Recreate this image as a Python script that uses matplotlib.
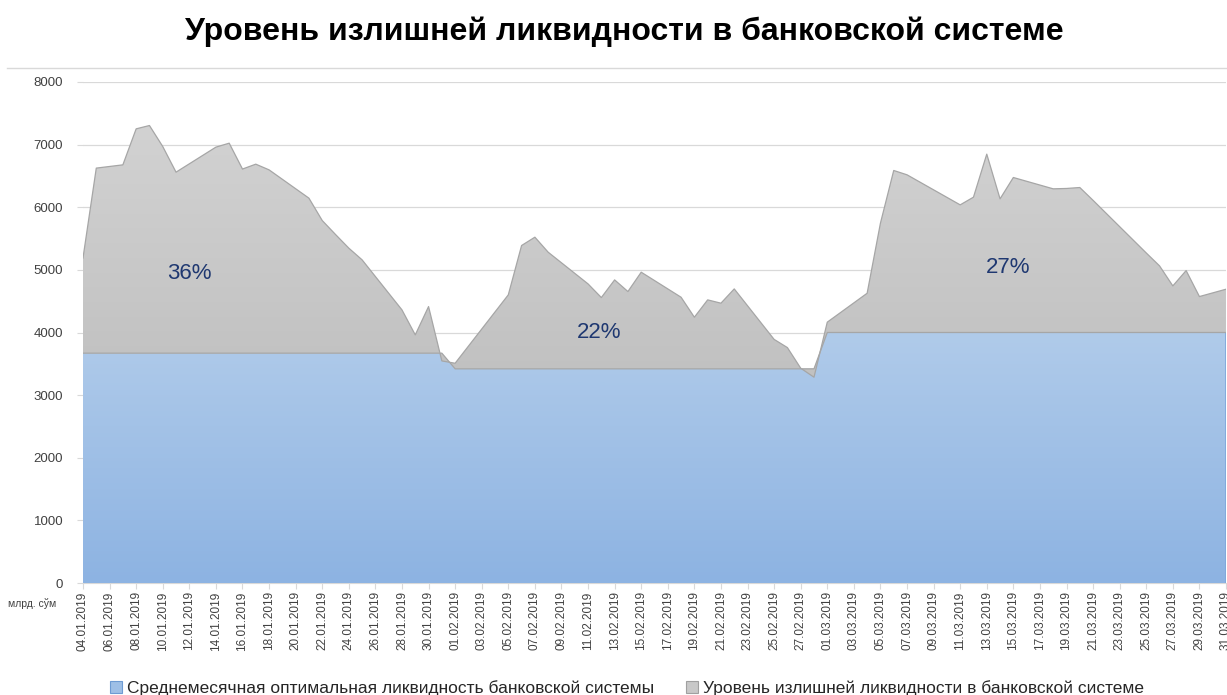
import matplotlib
matplotlib.use("Agg")
import matplotlib.pyplot as plt
import matplotlib.dates as mdates
from matplotlib.patches import Patch, PathPatch
from matplotlib.path import Path
from matplotlib.colors import LinearSegmentedColormap
from matplotlib.lines import Line2D
import numpy as np
import pandas as pd

plt.rcParams["font.family"] = ["Liberation Sans", "DejaVu Sans"]

# Daily observations (working days), млрд. сўм
dates = [
    "04.01.2019", "05.01.2019", "07.01.2019", "08.01.2019", "09.01.2019", "10.01.2019",
    "11.01.2019", "14.01.2019", "15.01.2019", "16.01.2019", "17.01.2019", "18.01.2019",
    "21.01.2019", "22.01.2019", "23.01.2019", "24.01.2019", "25.01.2019", "28.01.2019",
    "29.01.2019", "30.01.2019", "31.01.2019",
    "01.02.2019", "04.02.2019", "05.02.2019", "06.02.2019", "07.02.2019", "08.02.2019",
    "11.02.2019", "12.02.2019", "13.02.2019", "14.02.2019", "15.02.2019", "18.02.2019",
    "19.02.2019", "20.02.2019", "21.02.2019", "22.02.2019", "25.02.2019", "26.02.2019",
    "27.02.2019", "28.02.2019",
    "01.03.2019", "04.03.2019", "05.03.2019", "06.03.2019", "07.03.2019", "11.03.2019",
    "12.03.2019", "13.03.2019", "14.03.2019", "15.03.2019", "18.03.2019", "19.03.2019",
    "20.03.2019", "21.03.2019", "22.03.2019", "25.03.2019", "26.03.2019", "27.03.2019",
    "28.03.2019", "29.03.2019", "31.03.2019",
]
excess_level = [
    5190, 6625, 6677, 7252, 7305, 6970,
    6560, 6960, 7023, 6610, 6688, 6597,
    6145, 5788, 5565, 5347, 5160, 4361,
    3962, 4414, 3546,
    3509, 4328, 4601, 5389, 5522, 5282,
    4776, 4558, 4840, 4654, 4963, 4563,
    4244, 4521, 4468, 4696, 3890, 3759,
    3430, 3286,
    4165, 4627, 5746, 6587, 6518, 6038,
    6161, 6848, 6134, 6475, 6294, 6300,
    6315, 6110, 5900, 5270, 5064, 4744,
    4989, 4574, 4691,
]
# monthly average optimal liquidity
optimal_by_month = {1: 3670, 2: 3420, 3: 4000}
share_labels = ["36%", "22%", "27%"]
share_pos = [("12.01.2019 00:00", 4950), ("11.02.2019 20:00", 3995), ("14.03.2019 14:00", 5030)]

title = "Уровень излишней ликвидности в банковской системе"
label_optimal = "Среднемесячная оптимальная ликвидность банковской системы"
label_excess = "Уровень излишней ликвидности в банковской системе"

x = pd.to_datetime(dates, format="%d.%m.%Y")
xn = mdates.date2num(x)
level = np.array(excess_level, dtype=float)
optimal = np.array([optimal_by_month[d.month] for d in x], dtype=float)


def gradient_fill(ax, xs, y1, y2, c_top, c_bot, y_lo, y_hi, zorder):
    coll = ax.fill_between(xs, y1, y2, facecolor="none", linewidth=0)
    path = Path.make_compound_path(*coll.get_paths())
    patch = PathPatch(path, facecolor="none", edgecolor="none", transform=ax.transData)
    ax.add_patch(patch)
    cmap = LinearSegmentedColormap.from_list("g", [c_bot, c_top])
    grad = np.linspace(0, 1, 256).reshape(-1, 1)
    im = ax.imshow(grad, cmap=cmap, origin="lower", aspect="auto",
                   extent=[xs[0], xs[-1], y_lo, y_hi], zorder=zorder,
                   interpolation="bilinear")
    im.set_clip_path(patch)


fig = plt.figure(figsize=(12.27, 6.95), dpi=100)
ax = fig.add_axes([83 / 1227, 1 - 583 / 695, (1226 - 83) / 1227, (583 - 82) / 695])

gradient_fill(ax, xn, 0, optimal, "#b0cbea", "#8db3e2", 0, 4000, 2)
ax.plot(xn[-1:].repeat(2), [0, optimal[-1]], color="#7ea7da", lw=1.2, zorder=2.5)
gradient_fill(ax, xn, optimal, level, "#d2d2d2", "#c1c1c1", 3300, 7300, 3)
ax.plot(xn, level, color="#a6a6a6", lw=0.9, zorder=4)
ax.plot(xn, optimal, color="#a6a6a6", lw=0.9, zorder=3.5)

ax.set_xlim(xn[0], xn[-1])
ax.set_ylim(0, 8000)
ax.set_yticks(np.arange(0, 8001, 1000))
ax.yaxis.grid(True, color="#d9d9d9", lw=0.9)
ax.set_axisbelow(True)
for s in ["top", "right", "left"]:
    ax.spines[s].set_visible(False)
ax.spines["bottom"].set_color("#d9d9d9")
ax.spines["bottom"].set_zorder(1)

ticks = pd.date_range(x[0], x[-1], freq="2D")
ax.set_xticks(mdates.date2num(ticks))
ax.set_xticklabels([t.strftime("%d.%m.%Y") for t in ticks], rotation=90,
                   fontsize=8.5, color="#404040")
ax.tick_params(axis="x", length=4, color="#d9d9d9", pad=2)
ax.tick_params(axis="y", length=4.3, color="#d9d9d9", pad=10, labelsize=9.5,
               labelcolor="#404040")

for lab, (d, v) in zip(share_labels, share_pos):
    ax.text(mdates.date2num(pd.to_datetime(d, format="%d.%m.%Y %H:%M")), v, lab,
            ha="center", va="center", fontsize=16, color="#1f3871", zorder=5)

fig.text(624 / 1227, 1 - 32 / 695, title, ha="center", va="center",
         fontsize=23, fontweight="bold", color="black")
fig.add_artist(Line2D([7 / 1227, 1], [1 - 68 / 695] * 2, color="#d9d9d9", lw=1))
fig.text(8 / 1227, 1 - 604 / 695, "млрд. сўм", ha="left", va="center",
         fontsize=7.5, color="#404040")

handles = [Patch(facecolor="#9ebfe6", edgecolor="#6e9bd3", lw=0.8),
           Patch(facecolor="#c8c8c8", edgecolor="#a0a0a0", lw=0.8)]
fig.legend(handles, [label_optimal, label_excess], loc="center",
           bbox_to_anchor=(627 / 1227, 1 - 688 / 695), ncol=2, frameon=False,
           fontsize=12.5, handlelength=0.7, handleheight=0.7, handletextpad=0.3,
           columnspacing=1.8, labelcolor="#262626")

fig.savefig("out.png", dpi=100)
